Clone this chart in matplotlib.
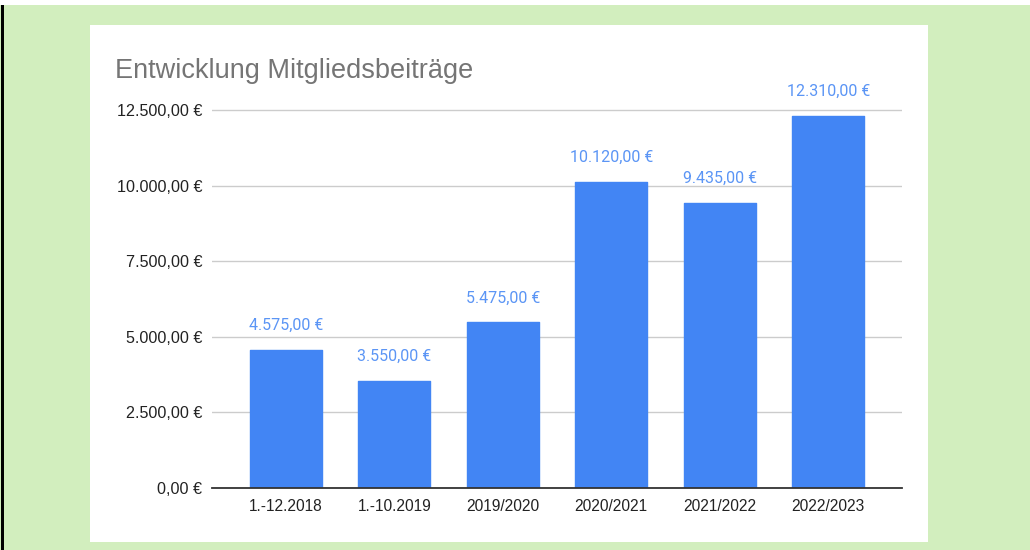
import matplotlib.pyplot as plt
from matplotlib.patches import Rectangle

categories = ["1.-12.2018", "1.-10.2019", "2019/2020", "2020/2021", "2021/2022", "2022/2023"]
beitraege = [4575, 3550, 5475, 10120, 9435, 12310]
y_ticks = [0, 2500, 5000, 7500, 10000, 12500]


def euro(v):
    s = f"{v:,.2f}"
    s = s.replace(",", "X").replace(".", ",").replace("X", ".")
    return s + " €"


W, H = 1030, 550
fig = plt.figure(figsize=(W / 100, H / 100), dpi=100)
fig.patch.set_facecolor("#d2eebe")

# white strip on top, black left edge, white chart panel
fig.patches.append(Rectangle((0, 1 - 5 / H), 1, 5 / H, transform=fig.transFigure,
                             facecolor="white", edgecolor="none", zorder=0))
fig.patches.append(Rectangle((1 / W, 0), 2.5 / W, 1 - 5 / H, transform=fig.transFigure,
                             facecolor="black", edgecolor="none", zorder=0))
fig.patches.append(Rectangle((90 / W, 8 / H), (928 - 90) / W, (542 - 25) / H,
                             transform=fig.transFigure,
                             facecolor="white", edgecolor="none", zorder=0))

ax = fig.add_axes([212 / W, 62 / H, (902 - 212) / W, (455 - 62) / H])
ax.set_zorder(2)
ax.set_facecolor("none")

x = list(range(len(categories)))
ax.bar(x, beitraege, width=0.665, color="#4285f4", edgecolor="#4285f4",
       linewidth=1, joinstyle="round", zorder=3)

for xi, v in zip(x, beitraege):
    ax.annotate(euro(v), (xi, v), xytext=(0, 14.5), textcoords="offset points",
                ha="center", va="baseline", fontsize=11.5, color="#5b95f5",
                family="Roboto")

ax.set_xlim(-0.68, 5.68)
ax.set_ylim(0, 13000)
ax.set_yticks(y_ticks)
ax.set_yticklabels([euro(v) for v in y_ticks])
ax.set_xticks(x)
ax.set_xticklabels(categories)

ax.grid(axis="y", color="#cccccc", linewidth=1, zorder=0)
ax.set_axisbelow(True)
for s in ["top", "right", "left"]:
    ax.spines[s].set_visible(False)
ax.spines["bottom"].set_color("#333333")
ax.spines["bottom"].set_linewidth(1.3)
ax.spines["bottom"].set_zorder(4)

ax.tick_params(axis="y", length=0, pad=7, labelsize=11.6, labelcolor="#222222")
ax.tick_params(axis="x", length=0, pad=8, labelsize=11.2, labelcolor="#222222")
for lab in ax.get_xticklabels() + ax.get_yticklabels():
    lab.set_family("Liberation Sans")

fig.text(115 / W, 1 - 78 / H, "Entwicklung Mitgliedsbeiträge", fontsize=19.5,
         color="#757575", family="Liberation Sans", va="baseline", ha="left")

fig.savefig("out.png", dpi=100, facecolor=fig.get_facecolor())
